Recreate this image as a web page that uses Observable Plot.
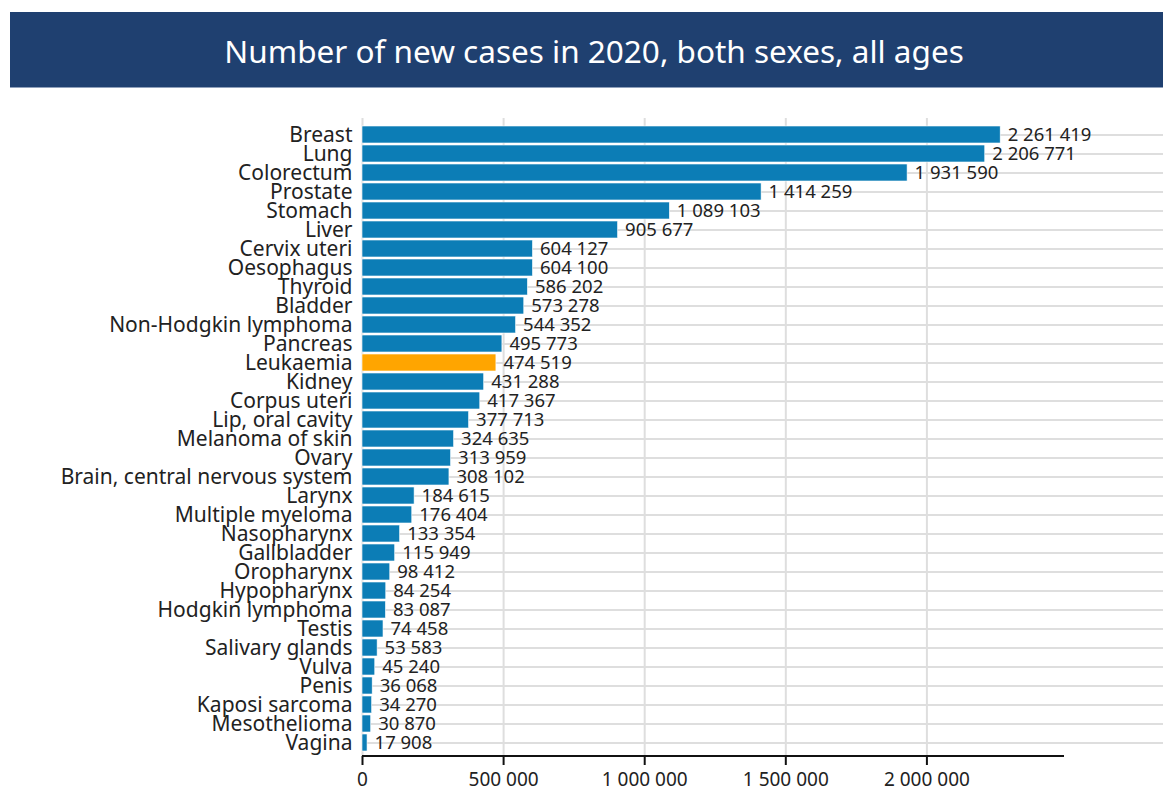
<!DOCTYPE html>
<html>
<head>
<meta charset="utf-8">
<script src="https://cdn.jsdelivr.net/npm/d3@7"></script>
<script src="https://cdn.jsdelivr.net/npm/@observablehq/plot@0.6"></script>
<style>
  html, body { margin: 0; padding: 0; background: #fff; }
  body { width: 1163px; height: 792px; overflow: hidden; font-family: "Noto Sans", sans-serif; }
  .title {
    margin: 12px 0 0 10px;
    width: 1168px;
    height: 75px;
    background: #1f4070;
    border-bottom: 1px solid #8fa0bb;
    color: #fff;
    font-size: 31.5px;
    line-height: 78px;
    text-align: center;
    box-sizing: content-box;
  }
  #chart svg { display: block; }
</style>
</head>
<body>
<div class="title">Number of new cases in 2020, both sexes, all ages</div>
<div id="chart"></div>
<script>
// Cancer sites, ordered by number of new cases
const sites = [
  "Breast", "Lung", "Colorectum", "Prostate", "Stomach", "Liver",
  "Cervix uteri", "Oesophagus", "Thyroid", "Bladder", "Non-Hodgkin lymphoma",
  "Pancreas", "Leukaemia", "Kidney", "Corpus uteri", "Lip, oral cavity",
  "Melanoma of skin", "Ovary", "Brain, central nervous system", "Larynx",
  "Multiple myeloma", "Nasopharynx", "Gallbladder", "Oropharynx",
  "Hypopharynx", "Hodgkin lymphoma", "Testis", "Salivary glands", "Vulva",
  "Penis", "Kaposi sarcoma", "Mesothelioma", "Vagina"
];

const newCases = [
  2261419, 2206771, 1931590, 1414259, 1089103, 905677,
  604127, 604100, 586202, 573278, 544352,
  495773, 474519, 431288, 417367, 377713,
  324635, 313959, 308102, 184615,
  176404, 133354, 115949, 98412,
  84254, 83087, 74458, 53583, 45240,
  36068, 34270, 30870, 17908
];

const highlighted = "Leukaemia";

const xTicks = [0, 500000, 1000000, 1500000, 2000000];

const rows = sites.map((site, i) => ({site, cases: newCases[i]}));

// thousands grouped with spaces: 2 261 419
const fmt = d3.formatLocale({decimal: ".", thousands: " ", grouping: [3], currency: ["", ""]}).format(",d");

const chart = Plot.plot({
  width: 1163,
  height: 704,
  marginTop: 33,
  marginBottom: 36,
  marginLeft: 362,
  marginRight: 99,
  style: {fontFamily: "Noto Sans, sans-serif", fontSize: "18px", color: "#111", background: "#fff"},
  x: {domain: [0, d3.max(newCases) * 1.1], ticks: xTicks, tickFormat: fmt, label: null},
  y: {domain: sites, padding: 0.1, label: null},
  marks: [
    Plot.gridX(xTicks, {stroke: "#dedede", strokeOpacity: 1, strokeWidth: 2, insetTop: -3}),
    Plot.ruleY(rows, {y: "site", stroke: "#dedede", strokeWidth: 2, insetRight: -99}),
    Plot.barX(rows, {
      y: "site",
      x: "cases",
      fill: d => d.site === highlighted ? "#ffa500" : "#0c7db6",
      stroke: "#fff",
      strokeWidth: 0.6
    }),
    Plot.text(rows, {
      y: "site",
      x: "cases",
      text: d => fmt(d.cases),
      textAnchor: "start",
      dx: 7,
      fill: "#222",
      fontSize: 18.5
    }),
    Plot.axisY({tickSize: 0, tickPadding: 10, fontSize: 21, fill: "#222"}),
    Plot.axisX({ticks: xTicks, tickFormat: fmt, tickSize: 9, tickPadding: 7, fontSize: 19, fill: "#222", strokeWidth: 2, stroke: "#111"})
  ]
});

// baseline along the x axis, spanning the full x range
{
  const [x0, x1] = chart.scale("x").range;
  const yBottom = chart.scale("y").range[1];
  d3.select(chart).append("line")
    .attr("x1", x0).attr("x2", x1)
    .attr("y1", yBottom).attr("y2", yBottom)
    .attr("stroke", "#111").attr("stroke-width", 2);
}

document.getElementById("chart").appendChild(chart);
</script>
</body>
</html>
